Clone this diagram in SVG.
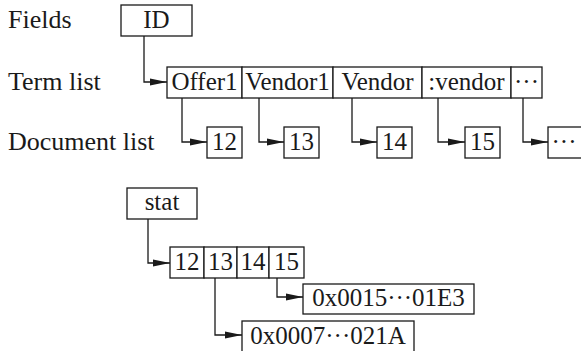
<svg xmlns="http://www.w3.org/2000/svg" width="581" height="351" viewBox="0 0 581 351">
<style>
text{font-family:"Liberation Serif","Times New Roman",serif;font-size:25px;fill:#1a1a1a}
.side{font-size:26px}
.c{text-anchor:middle}
rect{fill:#fff;stroke:#1a1a1a;stroke-width:1.3}
.con path{fill:none;stroke:#1a1a1a;stroke-width:1.3;marker-end:url(#ah)}
</style>
<defs>
<marker id="ah" markerUnits="userSpaceOnUse" markerWidth="18" markerHeight="8" refX="17" refY="4" orient="auto">
<path d="M0,0.5 L17,4 L0,7.5 Z" fill="#1a1a1a"/>
</marker>
</defs>
<rect x="-5" y="-5" width="600" height="370" style="stroke:none"/>
<g id="labels">
<text class="side" x="8" y="28">Fields</text>
<text class="side" x="8" y="90">Term list</text>
<text class="side" x="8" y="150">Document list</text>
</g>
<g id="id-field"><rect x="121" y="5" width="71" height="31"/><text class="c" x="156.5" y="28">ID</text></g>
<g id="term-list">
<rect x="167" y="67" width="75" height="31"/><text class="c" x="204.5" y="90">Offer1</text>
<rect x="242" y="67" width="91" height="31"/><text class="c" x="287.5" y="90">Vendor1</text>
<rect x="333" y="67" width="89" height="31"/><text class="c" x="377.5" y="90">Vendor</text>
<rect x="422" y="67" width="89" height="31"/><text class="c" x="466.5" y="90">:vendor</text>
<rect x="511" y="67" width="31" height="31"/><text class="c" x="526.5" y="90">···</text>
</g>
<g id="doc12"><rect x="207" y="127" width="35" height="31"/><text class="c" x="224.5" y="150">12</text></g>
<g id="doc13"><rect x="284" y="127" width="35" height="31"/><text class="c" x="301.5" y="150">13</text></g>
<g id="doc14"><rect x="377" y="127" width="35" height="31"/><text class="c" x="394.5" y="150">14</text></g>
<g id="doc15"><rect x="465" y="127" width="35" height="31"/><text class="c" x="482.5" y="150">15</text></g>
<g id="docmore"><rect x="548" y="127" width="40" height="31"/><text class="c" x="564" y="150">···</text></g>
<g id="stat"><rect x="127" y="188" width="70" height="31"/><text class="c" x="162" y="210">stat</text></g>
<g id="stat-list">
<rect x="170" y="247" width="34" height="31"/><text class="c" x="187" y="270">12</text>
<rect x="204" y="247" width="33" height="31"/><text class="c" x="220.5" y="270">13</text>
<rect x="237" y="247" width="32" height="31"/><text class="c" x="253" y="270">14</text>
<rect x="269" y="247" width="35" height="31"/><text class="c" x="286.5" y="270">15</text>
</g>
<g id="val15"><rect x="303" y="284" width="171" height="30"/><text class="c" x="388.5" y="306">0x0015···01E3</text></g>
<g id="val13"><rect x="242" y="321" width="172" height="40"/><text class="c" x="328" y="344">0x0007···021A</text></g>
<g class="con" id="connectors">
<path d="M144,36 V82 H167"/>
<path d="M182,98 V142 H207"/>
<path d="M259,98 V142 H284"/>
<path d="M352,98 V142 H377"/>
<path d="M438,98 V142 H465"/>
<path d="M523,98 V142 H548"/>
<path d="M148,219 V263 H170"/>
<path d="M277,278 V297 H303"/>
<path d="M215,278 V335 H242"/>
</g>
</svg>
